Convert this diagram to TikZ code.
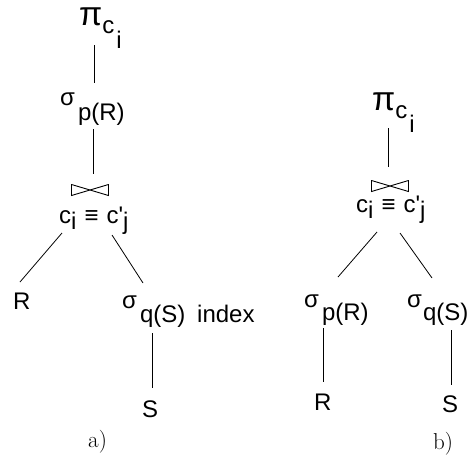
\documentclass[tikz,border=0pt]{standalone}
\usepackage{fontspec}
\usepackage{graphicx}
\newfontfamily\opfont{Liberation Sans}
\newcommand{\lowr}[2]{\raisebox{-#1pt}{#2}}
\newcommand{\bigpi}{\scalebox{1.4}{π}}

\begin{document}
\begin{tikzpicture}[x=1pt,y=-1pt,
		op/.style={inner sep=0pt, anchor=base west, font=\opfont\fontsize{24}{28}\selectfont},
		joinop/.style={inner sep=0pt, minimum width=38pt, minimum height=12pt,
			path picture={\draw[line width=0.9pt]
				([shift={(0.5,0.5)}]path picture bounding box.north west) -- ([shift={(0.5,-0.5)}]path picture bounding box.south west)
				-- ([shift={(-0.5,0.5)}]path picture bounding box.north east) -- ([shift={(-0.5,-0.5)}]path picture bounding box.south east) -- cycle;}},
		tag/.style={inner sep=0pt, anchor=base west, font=\fontsize{23}{27}\selectfont},
		arc/.style={line width=0.8pt}]
			\useasboundingbox (0,0) rectangle (470,461);
			% a)
			\node[op] (pa) at (79,25) {\bigpi\lowr{8}{c\hspace{2pt}\lowr{15}{i}}};
			\node[op] (sa) at (60,105) {σ\hspace{3pt}\lowr{15}{p(R)}};
			\node[joinop] (ja) at (90,190) {};
			\node[op] (ca) at (59,223) {c\lowr{6}{i}\hspace{8pt}≡\hspace{8pt}c'\lowr{6}{j}};
			\node[op] (Ra) at (13,309) {R};
			\node[op] (qa) at (122,308) {σ\hspace{3pt}\lowr{14}{q(S)}};
			\node[op] (ia) at (197,322) {index};
			\node[op] (Sa) at (142,417) {S};
			\node[tag] (la) at (88,447) {a)};
			\draw[arc]([shift={(15,20)}]pa.base west) -- ([shift={(34,-22)}]sa.base west);
			\draw[arc]([shift={(33,24)}]sa.base west) -- ([shift={(3,-16)}]ja.center);
			\draw[arc]([shift={(3,10)}]ca.base west) -- ([shift={(7,-27)}]Ra.base west);
			\draw[arc]([shift={(53,12)}]ca.base west) -- ([shift={(21,-25)}]qa.base west);
			\draw[arc]([shift={(30,25)}]qa.base west) -- ([shift={(10,-29)}]Sa.base west);
			% b)
			\node[op] (pb) at (372,110) {\bigpi\lowr{8}{c\hspace{2pt}\lowr{14}{i}}};
			\node[joinop] (jb) at (390,186) {};
			\node[op] (cb) at (356,212) {c\lowr{6}{i}\hspace{8pt}≡\hspace{8pt}c'\lowr{6}{j}};
			\node[op] (pr) at (304,307) {σ\hspace{3pt}\lowr{13}{p(R)}};
			\node[op] (qb) at (407,307) {σ\hspace{1pt}\lowr{13}{q(S)}};
			\node[op] (Rb) at (314,410) {R};
			\node[op] (Sb) at (442,412) {S};
			\node[tag] (lb) at (433,449) {b)};
			\draw[arc]([shift={(16,18)}]pb.base west) -- ([shift={(-2,-19)}]jb.center);
			\draw[arc]([shift={(21,20)}]cb.base west) -- ([shift={(34,-30)}]pr.base west);
			\draw[arc]([shift={(44,21)}]cb.base west) -- ([shift={(25,-29)}]qb.base west);
			\draw[arc]([shift={(19,21)}]pr.base west) -- ([shift={(9,-28)}]Rb.base west);
			\draw[arc]([shift={(44,23)}]qb.base west) -- ([shift={(9,-27)}]Sb.base west);
		\end{tikzpicture}
\end{document}
